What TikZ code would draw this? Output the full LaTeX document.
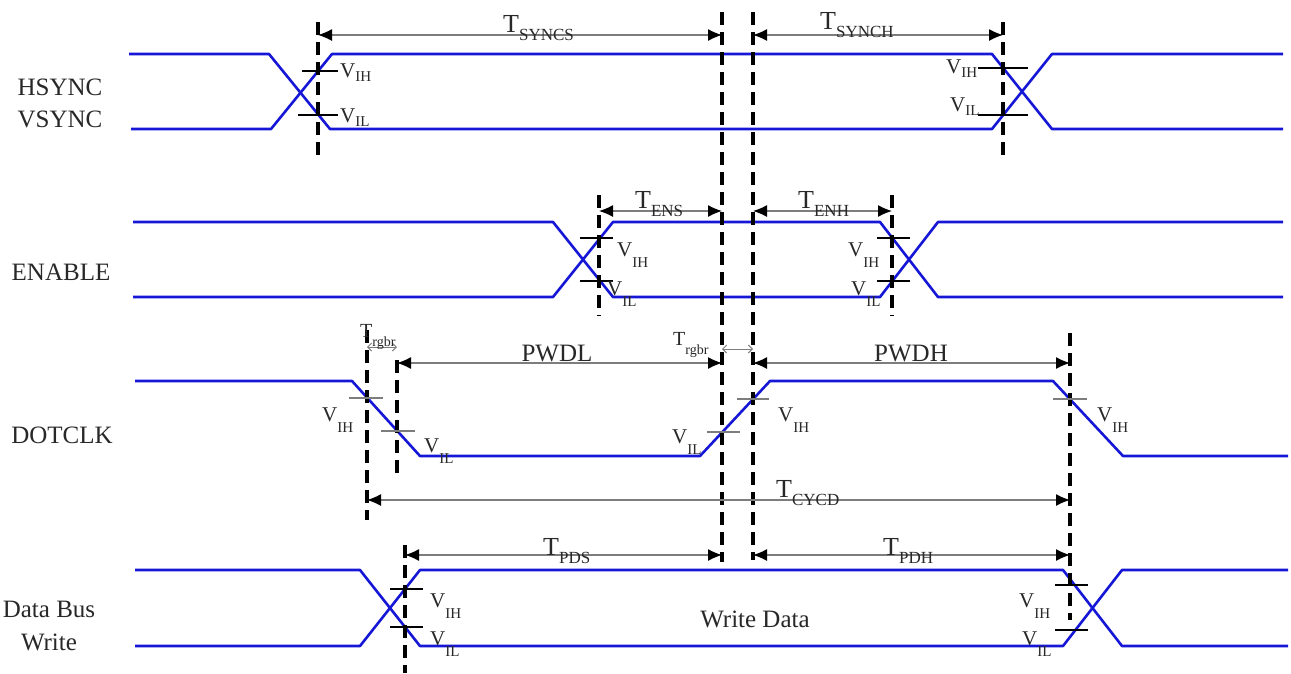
\documentclass[tikz,border=0pt]{standalone}
\usepackage{fontspec}
\setmainfont{Liberation Serif}
\usetikzlibrary{arrows.meta}
\definecolor{sigblue}{RGB}{22,22,215}
\definecolor{txt}{RGB}{40,40,40}
\definecolor{dimg}{RGB}{125,125,125}
\newcommand\Tl[1]{{\fontsize{26}{26}\selectfont T}\raisebox{-8pt}{\fontsize{17}{17}\selectfont #1}}
\newcommand\Vl[1]{{\fontsize{21}{21}\selectfont V}\raisebox{-4pt}{\fontsize{15}{15}\selectfont #1}}
\newcommand\Vd[1]{{\fontsize{21}{21}\selectfont V}\raisebox{-11pt}{\fontsize{15}{15}\selectfont #1}}
\newcommand\Tr{{\fontsize{20}{20}\selectfont T}\raisebox{-9pt}{\fontsize{14}{14}\selectfont rgbr}}
\tikzset{
  sig/.style={sigblue, line width=2.6pt, line join=round},
  guide/.style={black, line width=3.4pt, dash pattern=on 13pt off 7pt},
  dim/.style={dimg, line width=1.2pt, {Latex[length=14pt,width=12pt,color=black]}-{Latex[length=14pt,width=12pt,color=black]}},
  smalldim/.style={dimg, line width=0.9pt, {Straight Barb[length=4pt,width=8pt]}-{Straight Barb[length=4pt,width=8pt]}},
  tick/.style={black, line width=1.4pt},
  gtick/.style={dimg, line width=1.4pt},
  lbl/.style={inner sep=0, anchor=base west, text=txt},
  sname/.style={inner sep=0, anchor=base, text=txt, font=\fontsize{25}{25}\selectfont},
}
\begin{document}
\begin{tikzpicture}[x=1pt,y=-1pt]
\useasboundingbox (0,0) rectangle (1291,673);
\fill[white] (0,0) rectangle (1291,673);

% ---------- signal names ----------
\node[sname] (nh) at (60,95) {HSYNC};
\node[sname] (nv) at (60,127) {VSYNC};
\node[sname] (ne) at (61,280) {ENABLE};
\node[sname] (nd) at (62,443) {DOTCLK};
\node[sname] (nb) at (49,617) {Data Bus};
\node[sname] (nw) at (49,650) {Write};

% ---------- waveforms ----------
\draw[sig] (129,54)--(269,54)--(330,129)--(992,129)--(1052,54)--(1283,54);
\draw[sig] (131,129)--(271,129)--(332,54)--(992,54)--(1052,129)--(1283,129);
\draw[sig] (133,222)--(553,222)--(613,297)--(880,297)--(938,222)--(1283,222);
\draw[sig] (133,297)--(553,297)--(613,222)--(880,222)--(938,297)--(1283,297);
\draw[sig] (135,381)--(352,381)--(420,456)--(700,456)--(770,381)--(1053,381)--(1123,456)--(1288,456);
\draw[sig] (135,570)--(360,570)--(420,646)--(1063,646)--(1122,570)--(1288,570);
\draw[sig] (135,646)--(360,646)--(420,570)--(1063,570)--(1122,646)--(1288,646);

% ---------- timing guides ----------
\coordinate (g1t) at (318,22);  \coordinate (g1b) at (318,162);
\coordinate (g2t) at (722,12);  \coordinate (g2b) at (722,562);
\coordinate (g3t) at (753,12);  \coordinate (g3b) at (753,560);
\coordinate (g4t) at (1003,22); \coordinate (g4b) at (1003,157);
\coordinate (g5t) at (599,195); \coordinate (g5b) at (599,316);
\coordinate (g6t) at (892,195); \coordinate (g6b) at (892,316);
\coordinate (g7t) at (367,330); \coordinate (g7b) at (367,520);
\coordinate (g8t) at (397,360); \coordinate (g8b) at (397,476);
\coordinate (g9t) at (1070,333);\coordinate (g9b) at (1070,620);
\coordinate (g10t) at (405,545);\coordinate (g10b) at (405,673);
\foreach \a/\b in {g1t/g1b,g2t/g2b,g3t/g3b,g4t/g4b,g5t/g5b,g6t/g6b,g7t/g7b,g8t/g8b,g9t/g9b,g10t/g10b}
  \draw[guide] (\a) -- (\b);

% ---------- threshold ticks ----------
\draw[tick] (302,71)--(338,71);   \draw[tick] (298,115)--(338,115);
\draw[tick] (978,68)--(1028,68);  \draw[tick] (978,115)--(1028,115);
\draw[tick] (580,238)--(613,238); \draw[tick] (580,281)--(613,281);
\draw[tick] (877,238)--(910,238); \draw[tick] (877,281)--(910,281);
\draw[gtick] (349,398)--(383,398); \draw[gtick] (381,431)--(415,431);
\draw[gtick] (707,432)--(740,432); \draw[gtick] (737,399)--(769,399);
\draw[gtick] (1053,399)--(1087,399);
\draw[tick] (390,589)--(423,589); \draw[tick] (390,627)--(423,627);
\draw[tick] (1055,585)--(1088,585); \draw[tick] (1055,630)--(1088,630);

% ---------- dimension arrows ----------
\coordinate (a1) at (318,35);  \coordinate (a2) at (722,35);
\coordinate (a3) at (753,35);  \coordinate (a4) at (1003,35);
\coordinate (b1) at (599,211); \coordinate (b2) at (722,211);
\coordinate (b3) at (753,211); \coordinate (b4) at (892,211);
\coordinate (c1) at (397,363); \coordinate (c2) at (722,363);
\coordinate (c3) at (753,363); \coordinate (c4) at (1070,363);
\coordinate (d1) at (367,500); \coordinate (d2) at (1070,500);
\coordinate (e1) at (405,555); \coordinate (e2) at (722,555);
\coordinate (e3) at (753,555); \coordinate (e4) at (1070,555);
\coordinate (r1) at (367,347); \coordinate (r2) at (397,347);
\coordinate (r3) at (722,349); \coordinate (r4) at (753,349);
\draw[dim] (a1) -- (a2);
\draw[dim] (a3) -- (a4);
\draw[dim] (b1) -- (b2);
\draw[dim] (b3) -- (b4);
\draw[dim] (c1) -- (c2);
\draw[dim] (c3) -- (c4);
\draw[dim] (d1) -- (d2);
\draw[dim] (e1) -- (e2);
\draw[dim] (e3) -- (e4);
\draw[smalldim] (r1) -- (r2);
\draw[smalldim] (r3) -- (r4);

% ---------- timing labels ----------
\node[lbl] (tsyncs) at (503,32) {\Tl{SYNCS}};
\node[lbl] (tsynch) at (820,29) {\Tl{SYNCH}};
\node[lbl] (tens) at (635,208) {\Tl{ENS}};
\node[lbl] (tenh) at (798,208) {\Tl{ENH}};
\node[lbl] (tr1) at (360,337) {\Tr};
\node[lbl] (tr2) at (673,345) {\Tr};
\node[sname] (pwdl) at (557,361) {PWDL};
\node[sname] (pwdh) at (911,361) {PWDH};
\node[lbl] (tcycd) at (776,497) {\Tl{CYCD}};
\node[lbl] (tpds) at (543,555) {\Tl{PDS}};
\node[lbl] (tpdh) at (883,555) {\Tl{PDH}};
\node[sname] (wd) at (755,627) {Write Data};

% ---------- threshold labels ----------
\node[lbl] (v1) at (340,77) {\Vl{IH}};
\node[lbl] (v2) at (340,122) {\Vl{IL}};
\node[lbl] (v3) at (946,73) {\Vl{IH}};
\node[lbl] (v4) at (950,111) {\Vl{IL}};
\node[lbl] (v5) at (617,256) {\Vd{IH}};
\node[lbl] (v6) at (607,295) {\Vd{IL}};
\node[lbl] (v7) at (848,256) {\Vd{IH}};
\node[lbl] (v8) at (851,295) {\Vd{IL}};
\node[lbl] (v9) at (322,421) {\Vd{IH}};
\node[lbl] (v10) at (424,452) {\Vd{IL}};
\node[lbl] (v11) at (672,443) {\Vd{IL}};
\node[lbl] (v12) at (778,421) {\Vd{IH}};
\node[lbl] (v13) at (1097,421) {\Vd{IH}};
\node[lbl] (v14) at (430,607) {\Vd{IH}};
\node[lbl] (v15) at (430,645) {\Vd{IL}};
\node[lbl] (v16) at (1019,607) {\Vd{IH}};
\node[lbl] (v17) at (1022,645) {\Vd{IL}};
\end{tikzpicture}
\end{document}
